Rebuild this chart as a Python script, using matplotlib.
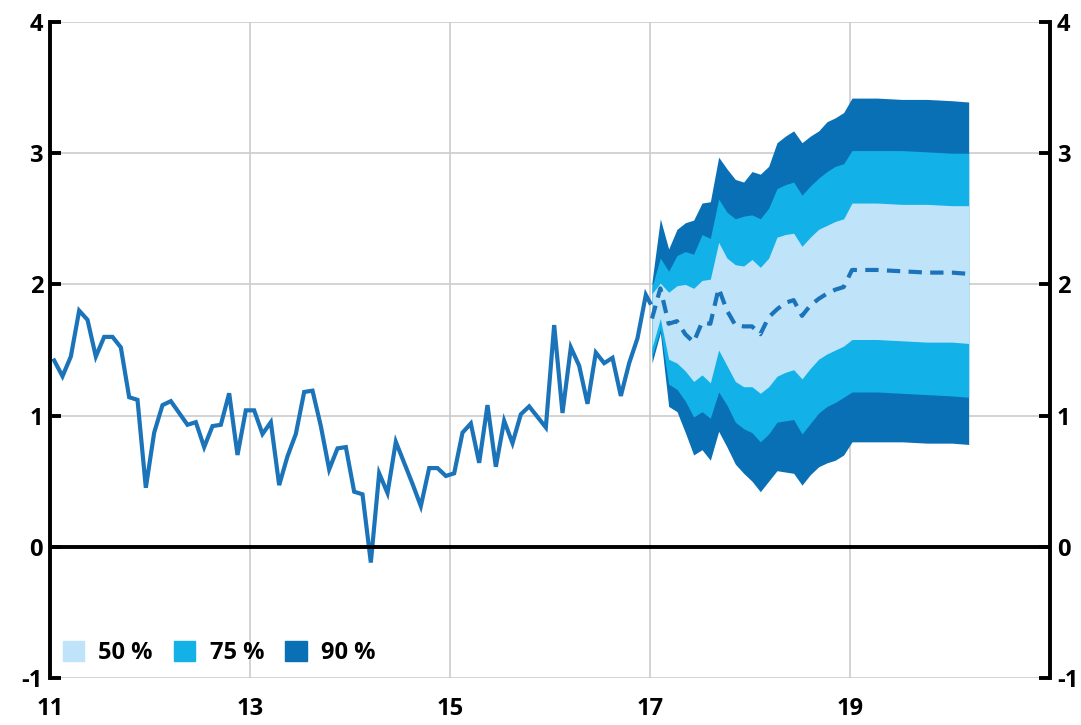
import numpy as np
import matplotlib.pyplot as plt
from matplotlib.patches import Patch

# historical series, monthly Jan 2011 - Dec 2016
hist = [1.42, 1.30, 1.45, 1.80, 1.73, 1.45, 1.60, 1.60, 1.52, 1.14, 1.12, 0.45,
        0.87, 1.08, 1.11, 1.02, 0.93, 0.95, 0.76, 0.92, 0.93, 1.17, 0.70, 1.04,
        1.04, 0.86, 0.95, 0.47, 0.69, 0.86, 1.18, 1.19, 0.92, 0.59, 0.75, 0.76,
        0.42, 0.40, -0.12, 0.56, 0.41, 0.80, 0.64, 0.48, 0.31, 0.60, 0.60, 0.54,
        0.56, 0.87, 0.94, 0.64, 1.08, 0.61, 0.96, 0.79, 1.01, 1.07, 0.99, 0.91,
        1.69, 1.02, 1.52, 1.38, 1.09, 1.48, 1.40, 1.44, 1.15, 1.40, 1.59, 1.92]
hist_last = 1.86

# fan chart, month index from Jan 2017
fan_months = list(range(25)) + [27, 30, 33, 36, 38]
q95 = [2.02, 2.50, 2.27, 2.42, 2.47, 2.49, 2.62, 2.63, 2.97, 2.88, 2.80, 2.78, 2.86,
       2.84, 2.90, 3.08, 3.13, 3.17, 3.08, 3.13, 3.17, 3.24, 3.27, 3.31, 3.42,
       3.42, 3.41, 3.41, 3.40, 3.39]
q875 = [1.98, 2.20, 2.10, 2.22, 2.25, 2.23, 2.38, 2.35, 2.65, 2.55, 2.50, 2.52, 2.53,
        2.50, 2.58, 2.73, 2.76, 2.78, 2.68, 2.75, 2.81, 2.86, 2.90, 2.92, 3.02,
        3.02, 3.02, 3.01, 3.00, 3.00]
q75 = [1.93, 2.01, 1.94, 1.99, 2.00, 1.97, 2.03, 2.04, 2.32, 2.20, 2.15, 2.14, 2.19,
       2.13, 2.20, 2.36, 2.38, 2.39, 2.29, 2.36, 2.42, 2.45, 2.48, 2.50, 2.62,
       2.62, 2.61, 2.61, 2.60, 2.60]
q25 = [1.52, 1.74, 1.43, 1.40, 1.34, 1.26, 1.31, 1.25, 1.50, 1.38, 1.26, 1.22, 1.22,
       1.17, 1.22, 1.30, 1.33, 1.35, 1.28, 1.36, 1.43, 1.47, 1.50, 1.53, 1.58,
       1.58, 1.57, 1.56, 1.56, 1.55]
q125 = [1.45, 1.66, 1.24, 1.20, 1.11, 0.99, 1.03, 0.98, 1.18, 1.08, 0.95, 0.90, 0.87,
        0.80, 0.86, 0.95, 0.96, 0.97, 0.86, 0.94, 1.02, 1.07, 1.10, 1.14, 1.18,
        1.18, 1.17, 1.16, 1.15, 1.14]
q05 = [1.40, 1.63, 1.07, 1.03, 0.87, 0.70, 0.74, 0.66, 0.88, 0.76, 0.63, 0.56, 0.50,
       0.42, 0.50, 0.58, 0.57, 0.56, 0.47, 0.55, 0.61, 0.64, 0.66, 0.70, 0.80,
       0.80, 0.80, 0.79, 0.79, 0.78]
median = [1.74, 1.97, 1.70, 1.72, 1.62, 1.56, 1.71, 1.70, 1.97, 1.80, 1.69, 1.68, 1.68,
          1.62, 1.75, 1.81, 1.86, 1.88, 1.76, 1.84, 1.89, 1.93, 1.96, 1.98, 2.11,
          2.11, 2.10, 2.09, 2.09, 2.08]

xticks = [11, 13, 15, 17, 19]
yticks = [-1, 0, 1, 2, 3, 4]
legend_labels = ["50 %", "75 %", "90 %"]

c_light = "#bfe4f9"
c_mid = "#12b2e8"
c_dark = "#0a70b6"
c_line = "#1b74b9"

plt.rcParams['font.family'] = ['Open Sans', 'DejaVu Sans']
plt.rcParams['font.weight'] = 'bold'
plt.rcParams['axes.unicode_minus'] = False

fig = plt.figure(figsize=(10.81, 7.25), dpi=100)
ax = fig.add_axes([50 / 1081, 47 / 725, 1000 / 1081, 656 / 725])

hx = 11 + (np.arange(len(hist)) + 0.5) / 12
fx = 17 + np.array(fan_months) / 12 + 0.02

ax.fill_between(fx, q05, q95, color=c_dark, lw=0, zorder=2)
ax.fill_between(fx, q125, q875, color=c_mid, lw=0, zorder=3)
ax.fill_between(fx, q25, q75, color=c_light, lw=0, zorder=4)
ax.plot(fx, median, color=c_line, lw=3.0, ls=(0, (3.2, 2.0)), zorder=5)
ax.plot(list(hx) + [fx[0] - 0.02], hist + [hist_last], color=c_line, lw=3.0,
        zorder=5, solid_joinstyle='miter')

ax.axhline(0, color='black', lw=2.8, zorder=6)

ax.set_xlim(11, 21)
ax.set_ylim(-1, 4)
ax.set_xticks(xticks)
ax.set_yticks(yticks)
ax.grid(True, color='#cccccc', lw=1.2, zorder=0)
ax.set_axisbelow(True)

for s in ['top', 'bottom']:
    ax.spines[s].set_visible(False)
for s in ['left', 'right']:
    ax.spines[s].set_linewidth(2.8)
    ax.spines[s].set_zorder(7)

ax.tick_params(axis='x', length=0, pad=14, labelsize=17)
ax.tick_params(axis='y', direction='in', length=8, width=2.8, left=True, right=True,
               labelleft=True, labelright=True, labelsize=17, pad=5)

handles = [Patch(color=c) for c in [c_light, c_mid, c_dark]]
ax.legend(handles, legend_labels, ncol=3, frameon=False, loc='lower left',
          bbox_to_anchor=(0.0, 0.0), fontsize=17, handlelength=0.9,
          handleheight=0.9, handletextpad=0.6, columnspacing=0.9,
          borderaxespad=0.15)

fig.savefig("out.png", dpi=100)
